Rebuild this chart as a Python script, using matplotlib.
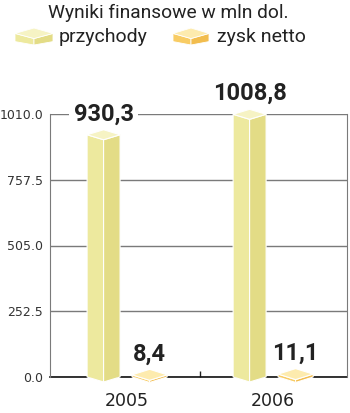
import numpy as np
import matplotlib
matplotlib.use("Agg")
import matplotlib.pyplot as plt
from matplotlib.patches import Polygon

# ---- data ----
years = ['2005', '2006']
przychody = [930.3, 1008.8]
zysk_netto = [8.4, 11.1]
yticks = [0.0, 252.5, 505.0, 757.5, 1010.0]
series_names = ['przychody', 'zysk netto']
title = 'Wyniki finansowe w mln dol.'

# ---- style ----
col_p = {'top': '#F6F3C4', 'left': '#EDE99E', 'right': '#E3DC86'}
col_z = {'top': '#FDEBAE', 'left': '#F8CC64', 'right': '#F2BD4E'}

W, H, DPI = 350, 413, 100
fig = plt.figure(figsize=(W / DPI, H / DPI), dpi=DPI)
ax_left, ax_right, ax_top, ax_bot = 50, 347, 114, 377
ax = fig.add_axes([ax_left / W, 1 - ax_bot / H, (ax_right - ax_left) / W, (ax_bot - ax_top) / H])

x = np.arange(len(years))
ax.set_xlim(-0.527, 1.507)
ax.set_ylim(0, 1010)

px_per_unit = (ax_bot - ax_top) / 1010.0


def prism_polys(l, r, base, v, dy):
    xc = (l + r) / 2
    left = [(l, v), (xc, v - dy / 2), (xc, base - dy / 2), (l, base)]
    right = [(xc, v - dy / 2), (r, v), (r, base), (xc, base - dy / 2)]
    top = [(l, v), (xc, v + dy / 2), (r, v), (xc, v - dy / 2)]
    return left, right, top


def draw_prism(target, l, r, base, v, dy, cols, lw=0.8, z=3):
    left, right, top = prism_polys(l, r, base, v, dy)
    for pts, key, zz in ((left, 'left', z), (right, 'right', z), (top, 'top', z + 1)):
        target.add_patch(Polygon(pts, closed=True, facecolor=cols[key], edgecolor='white',
                                 lw=lw, zorder=zz, clip_on=False))


off_p, w_p = -0.16, 0.226
off_z, w_z = 0.155, 0.24

for i in range(len(years)):
    xc = x[i] + off_p
    draw_prism(ax, xc - w_p / 2, xc + w_p / 2, 0, przychody[i], 10.0 / px_per_unit, col_p)
    xc = x[i] + off_z
    draw_prism(ax, xc - w_z / 2, xc + w_z / 2, 0, zysk_netto[i], 11.0 / px_per_unit, col_z)


def fmt(v):
    return f'{v:.1f}'.replace('.', ',')


for i in range(len(years)):
    for xc, v in ((x[i] + off_p, przychody[i]), (x[i] + off_z, zysk_netto[i])):
        ax.annotate(fmt(v), (xc, v), xytext=(0, 15), textcoords='offset points',
                    ha='center', va='center', fontsize=17, fontweight='bold',
                    family='Roboto', color='#222222', zorder=6, annotation_clip=False,
                    bbox=dict(boxstyle='square,pad=0.18', fc='white', ec='none'))

# grid / spines
ax.set_yticks(yticks)
ax.set_yticklabels([f'{t:.1f}' for t in yticks])
ax.yaxis.grid(True, color='#7a7a7a', lw=1.0, zorder=0)
ax.set_axisbelow(True)
ax.tick_params(axis='y', length=0, pad=5, labelsize=9, labelcolor='#333333')
for lab in ax.get_yticklabels():
    lab.set_family('DejaVu Sans')

ax.set_xticks(x)
ax.set_xticklabels(years)
ax.tick_params(axis='x', length=0, pad=10.5, labelsize=12.5, labelcolor='#222222')
ax.set_xticks([0.5], minor=True)
ax.tick_params(axis='x', which='minor', direction='in', length=4, width=1, color='#222222')

ax.spines['top'].set_visible(False)
ax.spines['left'].set_color('#7a7a7a')
ax.spines['right'].set_color('#7a7a7a')
ax.spines['bottom'].set_color('#111111')
ax.spines['bottom'].set_linewidth(1.2)
ax.spines['bottom'].set_zorder(2)

# ---- header: title + legend (overlay in figure pixel space) ----
hdr = fig.add_axes([0, 0, 1, 1], zorder=10)
hdr.set_xlim(0, W)
hdr.set_ylim(H, 0)
hdr.axis('off')
hdr.patch.set_alpha(0)

hdr.text(168, 12.5, title, ha='center', va='center', fontsize=13.8,
         family='Roboto', color='#222222')

legend_items = [(15, 53, 59, series_names[0], col_p), (173, 209, 217, series_names[1], col_z)]
icon_top, icon_bot = 28, 45
for l, r, tx, name, cols in legend_items:
    ih = icon_bot - icon_top
    side_y = icon_top + 0.32 * ih      # left/right vertex of the cap
    front_y = icon_top + 0.62 * ih     # front vertex of the cap
    base_side = icon_bot - 0.2 * ih    # bottom of the side edges
    xc = (l + r) / 2
    left = [(l, side_y), (xc, front_y), (xc, icon_bot), (l, base_side)]
    right = [(xc, front_y), (r, side_y), (r, base_side), (xc, icon_bot)]
    top = [(l, side_y), (xc, icon_top), (r, side_y), (xc, front_y)]
    for pts, key in ((left, 'left'), (right, 'right'), (top, 'top')):
        hdr.add_patch(Polygon(pts, closed=True, facecolor=cols[key], edgecolor='white', lw=0.6))
    hdr.text(tx, 37.5, name, ha='left', va='center', fontsize=14,
             family='Roboto', color='#222222')

fig.savefig('out.png', dpi=DPI)
